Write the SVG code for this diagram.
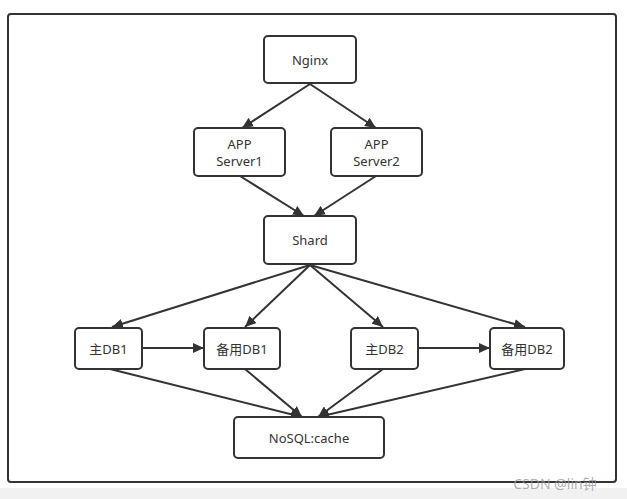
<svg xmlns="http://www.w3.org/2000/svg" width="627" height="499" viewBox="0 0 627 499">
<style>
.box{fill:#fff;stroke:#333;stroke-width:2}
.t{font-family:"Noto Sans","Noto Sans CJK SC",sans-serif;font-size:13px;fill:#333;text-anchor:middle;dominant-baseline:central}
.c{stroke:#333;stroke-width:2;fill:none;marker-end:url(#ah)}
</style>
<defs>
<marker id="ah" markerUnits="userSpaceOnUse" markerWidth="12" markerHeight="10" refX="11" refY="5" orient="auto">
<path d="M0,0 L11,5 L0,10 z" fill="#333"/>
</marker>
</defs>
<rect x="0" y="0" width="627" height="499" fill="#fff"/>
<rect x="0" y="488" width="627" height="11" fill="#f1f1f1"/>
<rect x="8" y="14" width="608" height="468" rx="3" fill="#fff" stroke="#333" stroke-width="2"/>
<g id="connectors">
<line class="c" x1="310" y1="84" x2="242" y2="128"/>
<line class="c" x1="310" y1="84" x2="376" y2="128"/>
<line class="c" x1="240" y1="176" x2="304" y2="216"/>
<line class="c" x1="376" y1="176" x2="314" y2="216"/>
<line class="c" x1="310" y1="265" x2="112" y2="327"/>
<line class="c" x1="310" y1="265" x2="245" y2="327"/>
<line class="c" x1="310" y1="265" x2="383" y2="327"/>
<line class="c" x1="310" y1="265" x2="525" y2="327"/>
<line class="c" x1="142" y1="348" x2="204" y2="348"/>
<line class="c" x1="418" y1="348" x2="490" y2="348"/>
<line class="c" x1="110" y1="369" x2="302" y2="417"/>
<line class="c" x1="245" y1="369" x2="302" y2="417"/>
<line class="c" x1="383" y1="369" x2="318" y2="417"/>
<line class="c" x1="525" y1="369" x2="318" y2="417"/>
</g>
<g id="nginx"><rect class="box" x="264" y="36" width="92" height="47" rx="4"/><text class="t" x="310" y="60">Nginx</text></g>
<g id="app1"><rect class="box" x="194" y="128" width="91" height="48" rx="4"/><text class="t" x="239.5" y="144">APP</text><text class="t" x="239.5" y="161">Server1</text></g>
<g id="app2"><rect class="box" x="331" y="128" width="91" height="48" rx="4"/><text class="t" x="376.5" y="144">APP</text><text class="t" x="376.5" y="161">Server2</text></g>
<g id="shard"><rect class="box" x="264" y="216" width="92" height="48" rx="4"/><text class="t" x="310" y="240">Shard</text></g>
<g id="db1"><rect class="box" x="75" y="328" width="67" height="41" rx="4"/><text class="t" x="108.5" y="348.5">主DB1</text></g>
<g id="db1b"><rect class="box" x="204" y="328" width="76" height="41" rx="4"/><text class="t" x="242" y="348.5">备用DB1</text></g>
<g id="db2"><rect class="box" x="351" y="328" width="67" height="41" rx="4"/><text class="t" x="384.5" y="348.5">主DB2</text></g>
<g id="db2b"><rect class="box" x="490" y="328" width="74" height="41" rx="4"/><text class="t" x="527" y="348.5">备用DB2</text></g>
<g id="nosql"><rect class="box" x="234" y="417" width="150" height="41" rx="4"/><text class="t" x="309" y="437.5">NoSQL:cache</text></g>
<text x="555" y="483" font-family="Noto Sans,'Noto Sans CJK SC',sans-serif" font-size="14" fill="#999" fill-opacity="0.8" text-anchor="middle" dominant-baseline="central">CSDN @lin钟</text>
</svg>
